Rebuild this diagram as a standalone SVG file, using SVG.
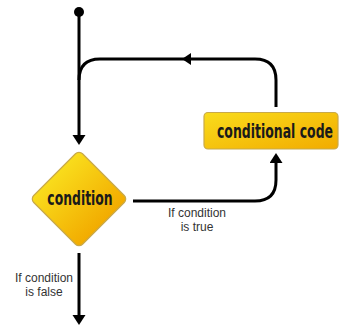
<svg xmlns="http://www.w3.org/2000/svg" width="339" height="325" viewBox="0 0 339 325">
<style>
.conn{fill:none;stroke:#000;stroke-width:3;}
.lbl{font-family:"DejaVu Sans Condensed","Liberation Sans",sans-serif;font-weight:bold;fill:#1a1a1a;text-anchor:middle;}
.note{font-family:"Liberation Sans",Arial,sans-serif;font-size:12px;fill:#333;text-anchor:middle;}
.shape{stroke:#c8a94a;stroke-width:1.2;}
</style>
<defs>
<linearGradient id="gold" x1="0" y1="0" x2="1" y2="1">
<stop offset="0" stop-color="#f9dc1c"/>
<stop offset="1" stop-color="#f2ab00"/>
</linearGradient>
<linearGradient id="goldD" x1="0" y1="0" x2="1" y2="0">
<stop offset="0" stop-color="#f9dc1c"/>
<stop offset="1" stop-color="#f2ab00"/>
</linearGradient>
<marker id="arr" markerUnits="userSpaceOnUse" markerWidth="12" markerHeight="14" refX="2" refY="6.5" orient="auto">
<path d="M0,0 L10,6.5 L0,13 z" fill="#000"/>
</marker>
</defs>
<g id="connectors">
<circle cx="79" cy="12" r="5" fill="#000"/>
<path class="conn" d="M79,12 V137" marker-end="url(#arr)"/>
<path class="conn" d="M276,107 V80 Q276,59 255,59 H100 Q79,59 79,80"/>
<path d="M182,59 L191,53 L191,65 z" fill="#000"/>
<path class="conn" d="M133,201 H255 Q276,201 276,180 V161" marker-end="url(#arr)"/>
<path class="conn" d="M79,253 V317" marker-end="url(#arr)"/>
<text class="note" x="197" y="217">If condition</text>
<text class="note" x="197" y="231">is true</text>
<text class="note" x="44" y="282">If condition</text>
<text class="note" x="44" y="296">is false</text>
</g>
<g id="condition">
<rect class="shape" x="-34.5" y="-34.5" width="69" height="69" rx="5" fill="url(#goldD)" transform="translate(79,199) rotate(45)"/>
<text class="lbl" x="0" y="0" font-size="20" transform="translate(80,205) scale(0.69,1)">condition</text>
</g>
<g id="conditional-code">
<rect class="shape" x="204" y="112.5" width="134" height="36.5" rx="4" fill="url(#gold)"/>
<text class="lbl" x="0" y="0" font-size="19" transform="translate(275,137.5) scale(0.73,1)">conditional code</text>
</g>
</svg>
